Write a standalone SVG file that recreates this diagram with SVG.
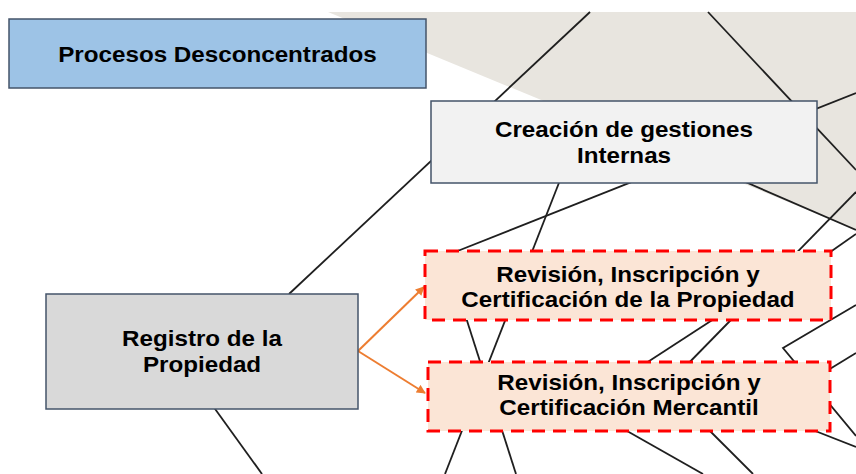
<svg xmlns="http://www.w3.org/2000/svg" width="856" height="474" viewBox="0 0 856 474">
  <defs>
    <marker id="arr" viewBox="0 0 10 10" refX="9" refY="5" markerWidth="10" markerHeight="9" markerUnits="userSpaceOnUse" orient="auto">
      <path d="M0,0 L10,5 L0,10 z" fill="#ed7d31"/>
    </marker>
    <style>
      .bg { fill: #e8e5df; }
      .ln { stroke: #1f1f1f; stroke-width: 1.8; fill: none; }
      .arrow { stroke: #ed7d31; stroke-width: 2; fill: none; marker-end: url(#arr); }
      .box { stroke: #44546a; stroke-width: 1.5; }
      .dash { fill: #fbe5d6; stroke: #ff0000; stroke-width: 3; stroke-dasharray: 13 8; }
      .t { font-family: "Liberation Sans", Arial, sans-serif; font-weight: bold; font-size: 22px; fill: #000; text-anchor: middle; }
    </style>
  </defs>
  <rect width="856" height="474" fill="#ffffff"/>
  <polygon class="bg" points="328,12 856,12 856,230"/>

  <g id="connectors">
    <line class="ln" x1="590" y1="12" x2="289" y2="294"/>
    <line class="ln" x1="708" y1="12" x2="856" y2="170"/>
    <line class="ln" x1="856" y1="93" x2="450" y2="254"/>
    <line class="ln" x1="564" y1="170" x2="445" y2="474"/>
    <line class="ln" x1="462" y1="305" x2="516" y2="474"/>
    <line class="ln" x1="205" y1="395" x2="262" y2="474"/>
    <line class="ln" x1="720" y1="171" x2="856" y2="230"/>
    <line class="ln" x1="856" y1="192" x2="680" y2="372"/>
    <line class="ln" x1="856" y1="234" x2="826" y2="255"/>
    <line class="ln" x1="720" y1="315" x2="640" y2="367"/>
    <polyline class="ln" points="856,305 783,348 856,436"/>
    <line class="ln" x1="856" y1="353" x2="820" y2="375"/>
    <line class="ln" x1="800" y1="425" x2="856" y2="447"/>
    <line class="ln" x1="620" y1="427" x2="703" y2="474"/>
    <line class="ln" x1="706" y1="427" x2="753" y2="474"/>
    <line class="arrow" x1="358" y1="351" x2="424" y2="287"/>
    <line class="arrow" x1="358" y1="351" x2="425" y2="393"/>
  </g>

  <g id="procesos">
    <rect class="box" x="9" y="19" width="417" height="69" fill="#9dc3e6"/>
    <text class="t" transform="translate(217.5,61.5) scale(1.1,1)">Procesos Desconcentrados</text>
  </g>

  <g id="creacion">
    <rect class="box" x="431" y="101" width="386" height="82" fill="#f2f2f2"/>
    <text class="t" transform="translate(624,137) scale(1.1,1)">Creación de gestiones</text>
    <text class="t" transform="translate(624,163) scale(1.1,1)">Internas</text>
  </g>

  <g id="registro">
    <rect class="box" x="46" y="294" width="312" height="115" fill="#d9d9d9"/>
    <text class="t" transform="translate(202,346) scale(1.1,1)">Registro de la</text>
    <text class="t" transform="translate(202,372) scale(1.1,1)">Propiedad</text>
  </g>

  <g id="rev-propiedad">
    <rect class="dash" x="425" y="251" width="406" height="69"/>
    <text class="t" transform="translate(628,282) scale(1.1,1)">Revisión, Inscripción y</text>
    <text class="t" transform="translate(628,307) scale(1.1,1)">Certificación de la Propiedad</text>
  </g>

  <g id="rev-mercantil">
    <rect class="dash" x="428" y="362" width="402" height="69"/>
    <text class="t" transform="translate(629,390) scale(1.1,1)">Revisión, Inscripción y</text>
    <text class="t" transform="translate(629,415) scale(1.1,1)">Certificación Mercantil</text>
  </g>
</svg>
